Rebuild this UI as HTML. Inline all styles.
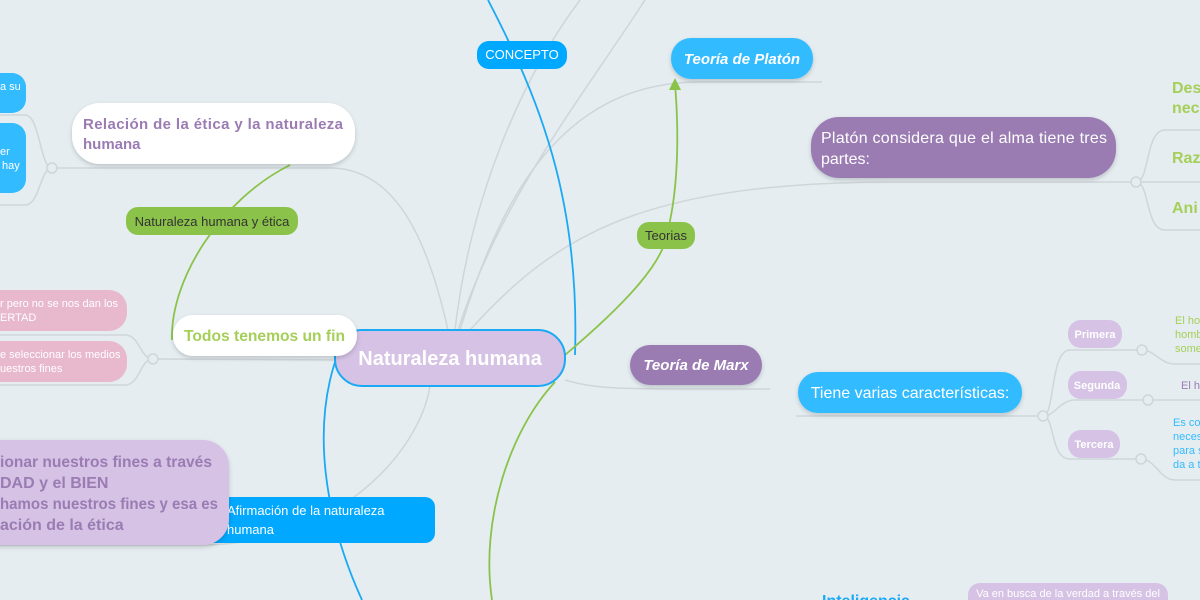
<!DOCTYPE html>
<html><head><meta charset="utf-8"><style>
body{margin:0;width:1200px;height:600px;overflow:hidden;background:#e5edf1;font-family:"Liberation Sans",sans-serif}
svg{display:block}
</style></head><body>
<svg width="1200" height="600" viewBox="0 0 1200 600" xmlns="http://www.w3.org/2000/svg" font-family="Liberation Sans, sans-serif">
<rect width="1200" height="600" fill="#e5edf1"/>
<defs><filter id="sh" x="-10%" y="-20%" width="120%" height="150%"><feDropShadow dx="0" dy="2" stdDeviation="2" flood-color="#000" flood-opacity="0.18"/></filter></defs>
<g fill="none" stroke="#cfd6da" stroke-width="1.5">
<path d="M455 330 C470 200 520 80 580 0"/>
<path d="M458 330 C500 200 580 100 645 0"/>
<path d="M460 330 C500 200 560 82 700 82 L822 82"/>
<path d="M470 330 C560 230 650 182 900 182 L1135 182"/>
<path d="M448 330 C430 250 400 168 330 168 L52 168"/>
<path d="M52 168 C40 168 40 115 25 115 L0 115"/>
<path d="M52 168 C40 168 40 205 25 205 L0 205"/>
<path d="M430 386 C420 450 340 545 200 545 L0 545"/>
<path d="M340 360 L153 359"/>
<path d="M153 359 C140 359 140 335 125 335 L0 335"/>
<path d="M153 359 C140 359 140 385 125 385 L0 385"/>
<path d="M565 380 C600 390 620 389 770 389"/>
<path d="M796 416 L1043 416"/>
<path d="M1043 416 C1055 416 1050 350 1070 350 L1142 350"/>
<path d="M1043 416 C1055 416 1060 400 1075 400 L1148 400"/>
<path d="M1043 416 C1055 416 1050 459 1070 459 L1141 459"/>
<path d="M1142 350 C1155 350 1160 364 1175 364 L1200 364"/>
<path d="M1148 400 L1200 400"/>
<path d="M1141 459 C1155 459 1160 480 1175 480 L1200 480"/>
<path d="M1136 182 C1150 182 1145 130 1165 130 L1200 130"/>
<path d="M1136 182 L1200 182"/>
<path d="M1136 182 C1150 182 1145 230 1165 230 L1200 230"/>
</g>
<g fill="#e5edf1" stroke="#cfd6da" stroke-width="1.5">
<circle cx="52" cy="168" r="5"/><circle cx="153" cy="359" r="5"/><circle cx="1136" cy="182" r="5"/>
<circle cx="1043" cy="416" r="5"/><circle cx="1142" cy="350" r="5"/><circle cx="1148" cy="400" r="5"/><circle cx="1141" cy="459" r="5"/>
</g>
<g fill="none" stroke-width="1.8">
<path d="M575 355 C580 200 540 100 488 0" stroke="#1aa9f5"/>
<path d="M335 362 C310 440 330 530 362 600" stroke="#1aa9f5"/>
<path d="M565 355 C630 300 665 260 668 230 C680 180 678 120 675 84" stroke="#8bc34a"/>
<path d="M290 165 C220 200 170 280 172 340" stroke="#8bc34a"/>
<path d="M555 382 C510 430 480 520 492 600" stroke="#8bc34a"/>
</g>
<polygon points="675,78 669,90 681,90" fill="#8bc34a"/>

<g font-size="13">
<rect x="477" y="41" width="90" height="28" rx="12" fill="#00a8ff"/><text x="522" y="59" fill="#fff" text-anchor="middle">CONCEPTO</text>
<rect x="637" y="222" width="58" height="27" rx="12" fill="#8bc34a"/><text x="666" y="240" fill="#333" text-anchor="middle">Teorias</text>
<rect x="126" y="207" width="172" height="28" rx="12" fill="#8bc34a"/><text x="212" y="226" fill="#333" text-anchor="middle">Naturaleza humana y ética</text>
<rect x="200" y="497" width="235" height="46" rx="10" fill="#00a8ff"/><text x="227" y="515" fill="#fff">Afirmación de la naturaleza</text><text x="227" y="534" fill="#fff">humana</text>
</g>

<rect x="671" y="38" width="142" height="41" rx="20" fill="#33bbff" filter="url(#sh)"/>
<text x="742" y="64" fill="#fff" font-size="15" font-weight="bold" font-style="italic" text-anchor="middle">Teoría de Platón</text>
<rect x="630" y="345" width="132" height="40" rx="20" fill="#9a7cb3" filter="url(#sh)"/>
<text x="696" y="370" fill="#fff" font-size="15" font-weight="bold" font-style="italic" text-anchor="middle">Teoría de Marx</text>

<rect x="811" y="117" width="305" height="61" rx="28" fill="#9a7cb3" filter="url(#sh)"/>
<text x="821" y="143" fill="#fff" font-size="16" textLength="286">Platón considera que el alma tiene tres</text>
<text x="821" y="164" fill="#fff" font-size="16">partes:</text>
<g fill="#a5cf58" font-size="16" font-weight="bold"><text x="1172" y="93">Des</text><text x="1172" y="113">nec</text><text x="1172" y="163">Raz</text><text x="1172" y="213">Ani</text></g>

<rect x="798" y="372" width="224" height="41" rx="20" fill="#33bbff" filter="url(#sh)"/>
<text x="910" y="398" fill="#fff" font-size="16" text-anchor="middle">Tiene varias características:</text>
<g font-size="11" font-weight="bold" fill="#fff" text-anchor="middle">
<rect x="1068" y="320" width="54" height="28" rx="13" fill="#d5c2e5"/><text x="1095" y="338">Primera</text>
<rect x="1068" y="371" width="59" height="28" rx="13" fill="#d5c2e5"/><text x="1097" y="389">Segunda</text>
<rect x="1068" y="430" width="52" height="28" rx="13" fill="#d5c2e5"/><text x="1094" y="448">Tercera</text>
</g>
<g font-size="11"><text x="1175" y="324" fill="#a5cf58">El ho</text><text x="1175" y="338" fill="#a5cf58">homb</text><text x="1175" y="352" fill="#a5cf58">some</text>
<text x="1181" y="389" fill="#9a7cb3">El h</text>
<g fill="#33bbff"><text x="1173" y="426">Es co</text><text x="1173" y="440">neces</text><text x="1173" y="454">para s</text><text x="1173" y="468">da a t</text></g></g>
<text x="822" y="606" fill="#1aa9f5" font-size="16" font-weight="bold">Inteligencia</text>
<rect x="968" y="583" width="200" height="30" rx="12" fill="#d5c2e5"/>
<text x="1068" y="597" fill="#fff" font-size="11" text-anchor="middle">Va en busca de la verdad a través del</text>

<rect x="72" y="103" width="283" height="61" rx="28" fill="#fff" filter="url(#sh)"/>
<text x="83" y="129" fill="#9a7cb3" font-size="15" font-weight="bold" textLength="260">Relación de la ética y la naturaleza</text>
<text x="83" y="149" fill="#9a7cb3" font-size="15" font-weight="bold">humana</text>
<rect x="-20" y="73" width="46" height="40" rx="14" fill="#33bbff"/><text x="0" y="90" fill="#fff" font-size="11">a su</text>
<rect x="-20" y="123" width="46" height="70" rx="14" fill="#33bbff"/><text x="0" y="155" fill="#fff" font-size="11">er</text><text x="2" y="169" fill="#fff" font-size="11">hay</text>

<rect x="-30" y="290" width="157" height="41" rx="18" fill="#e8b8cc"/>
<text x="0" y="307" fill="#fff" font-size="11">r pero no se nos dan los</text><text x="0" y="321" fill="#fff" font-size="11">ERTAD</text>
<rect x="-30" y="341" width="157" height="41" rx="18" fill="#e8b8cc"/>
<text x="0" y="358" fill="#fff" font-size="11">e seleccionar los medios</text><text x="0" y="372" fill="#fff" font-size="11">uestros fines</text>

<rect x="-40" y="440" width="269" height="105" rx="26" fill="#d5c2e5" filter="url(#sh)"/>
<g fill="#9a7cb3" font-size="16" font-weight="bold"><text x="0" y="467" textLength="212" lengthAdjust="spacingAndGlyphs">ionar nuestros fines a través</text><text x="0" y="488">DAD y el BIEN</text><text x="0" y="509" textLength="218" lengthAdjust="spacingAndGlyphs">hamos nuestros fines y esa es</text><text x="0" y="530">ación de la ética</text></g>

<rect x="335" y="330" width="230" height="56" rx="27" fill="#d5c2e5" stroke="#1aa9f5" stroke-width="2"/>
<text x="450" y="365" fill="#fff" font-size="20" font-weight="bold" text-anchor="middle">Naturaleza humana</text>

<rect x="173" y="315" width="184" height="41" rx="20" fill="#fff" filter="url(#sh)"/>
<text x="184" y="341" fill="#a5cf58" font-size="16" font-weight="bold" textLength="161" lengthAdjust="spacingAndGlyphs">Todos tenemos un fin</text>
</svg>
</body></html>
